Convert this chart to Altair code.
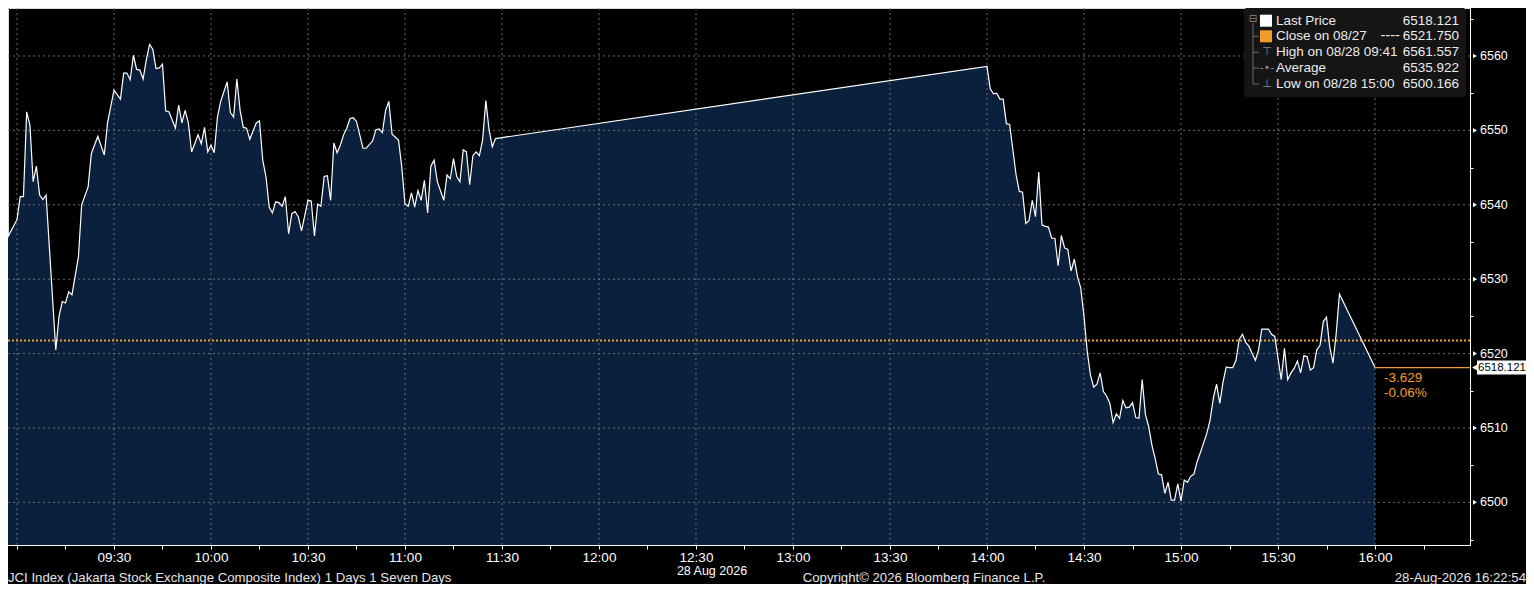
import altair as alt
import pandas as pd

# ---------------- data ----------------
times = [
    "08:55", "09:00", "09:01", "09:02", "09:03", "09:04", "09:05", "09:06", "09:07", "09:08", "09:09",
    "09:12", "09:13", "09:14", "09:15", "09:16", "09:17", "09:19", "09:20", "09:22", "09:23", "09:25",
    "09:27", "09:28", "09:30", "09:32", "09:33", "09:34", "09:35", "09:36", "09:37", "09:38", "09:39",
    "09:40", "09:41", "09:42", "09:43", "09:44", "09:45", "09:46", "09:47", "09:49", "09:50", "09:51",
    "09:52", "09:53", "09:54", "09:56", "09:57", "09:58", "09:59", "10:00", "10:01", "10:02", "10:03",
    "10:05", "10:06", "10:07", "10:08", "10:09", "10:10", "10:11", "10:12", "10:14", "10:15", "10:16",
    "10:17", "10:18", "10:19", "10:20", "10:21", "10:22", "10:23", "10:24", "10:25", "10:26", "10:27",
    "10:28", "10:30", "10:31", "10:32", "10:33", "10:34", "10:35", "10:36", "10:37", "10:38", "10:39",
    "10:40", "10:41", "10:42", "10:43", "10:44", "10:45", "10:47", "10:48", "10:50", "10:51", "10:52",
    "10:53", "10:54", "10:55", "10:56", "10:58", "10:59", "11:00", "11:01", "11:02", "11:03", "11:04",
    "11:05", "11:06", "11:07", "11:08", "11:09", "11:10", "11:12", "11:13", "11:14", "11:15", "11:16",
    "11:17", "11:18", "11:19", "11:20", "11:21", "11:22", "11:23", "11:24", "11:25", "11:26", "11:27",
    "11:28",
    "14:00", "14:01", "14:02", "14:03", "14:04", "14:05", "14:06", "14:07", "14:08", "14:09", "14:10",
    "14:11", "14:12", "14:13", "14:14", "14:15", "14:16", "14:17", "14:18", "14:19", "14:20", "14:21",
    "14:22", "14:23", "14:24", "14:25", "14:26", "14:27", "14:28", "14:29", "14:30", "14:31", "14:32",
    "14:33", "14:34", "14:35", "14:36", "14:37", "14:38", "14:39", "14:40", "14:41", "14:42", "14:43",
    "14:44", "14:45", "14:46", "14:47", "14:48", "14:49", "14:50", "14:51", "14:52", "14:53", "14:54",
    "14:55", "14:56", "14:57", "14:58", "14:59", "15:00", "15:01", "15:02", "15:03", "15:04", "15:05",
    "15:06", "15:08", "15:09", "15:10", "15:11", "15:12", "15:13", "15:14", "15:15", "15:16", "15:17",
    "15:18", "15:19", "15:20", "15:21", "15:22", "15:23", "15:24", "15:25", "15:26", "15:27", "15:28",
    "15:29", "15:30", "15:31", "15:32", "15:33", "15:34", "15:35", "15:36", "15:37", "15:38", "15:39",
    "15:40", "15:41", "15:42", "15:43", "15:44", "15:45", "15:46", "15:47", "15:48", "15:49", "16:00",
]
prices = [
    6533.9, 6538.0, 6541.1, 6541.1, 6552.5, 6550.7, 6543.1, 6545.2, 6541.3, 6540.7, 6541.3,
    6520.5, 6525.0, 6527.0, 6526.8, 6528.3, 6527.9, 6533.0, 6540.0, 6542.4, 6546.9, 6549.2,
    6546.7, 6551.0, 6555.4, 6554.2, 6557.7, 6557.7, 6556.8, 6560.1, 6558.2, 6558.1, 6556.9,
    6559.5, 6561.557, 6560.9, 6558.3, 6558.4, 6558.9, 6552.6, 6552.5, 6550.3, 6553.4, 6551.0,
    6552.7, 6551.0, 6547.1, 6549.4, 6548.2, 6550.4, 6547.1, 6548.0, 6547.0, 6551.8, 6553.9,
    6556.5, 6552.4, 6551.8, 6556.9, 6552.7, 6550.4, 6550.3, 6548.8, 6551.0, 6551.3, 6546.0,
    6543.8, 6539.7, 6538.9, 6540.4, 6540.3, 6539.8, 6541.1, 6536.1, 6538.8, 6539.1, 6538.4,
    6536.5, 6540.6, 6540.5, 6535.8, 6540.1, 6539.8, 6543.8, 6543.9, 6540.6, 6548.3, 6547.0,
    6548.0, 6549.4, 6550.3, 6551.6, 6551.7, 6551.2, 6547.6, 6547.6, 6548.6, 6550.1, 6550.2,
    6549.7, 6552.7, 6553.9, 6549.5, 6548.7, 6545.1, 6540.1, 6539.8, 6541.6, 6539.7, 6541.9,
    6540.6, 6543.3, 6538.9, 6545.2, 6546.0, 6543.1, 6540.6, 6544.0, 6543.5, 6546.2, 6543.8,
    6543.1, 6547.4, 6547.1, 6542.7, 6546.6, 6547.1, 6546.6, 6548.7, 6554.0, 6550.1, 6547.8,
    6548.9,
    6558.6, 6555.6, 6554.9, 6555.0, 6554.2, 6554.2, 6550.9, 6550.8, 6547.4, 6544.0, 6541.8,
    6541.7, 6537.5, 6537.9, 6540.6, 6538.4, 6544.4, 6537.3, 6537.1, 6537.0, 6535.5, 6535.5,
    6531.8, 6535.9, 6534.2, 6534.0, 6531.1, 6532.7, 6530.3, 6528.8, 6525.0, 6520.3, 6517.1,
    6515.5, 6515.9, 6517.4, 6514.9, 6514.3, 6513.3, 6510.7, 6511.9, 6511.3, 6513.7, 6512.7,
    6512.8, 6513.4, 6511.4, 6511.3, 6516.5, 6511.8, 6510.2, 6507.7, 6505.9, 6503.8, 6503.7,
    6501.2, 6502.7, 6500.3, 6500.3, 6502.5, 6500.166, 6503.0, 6502.7, 6503.5, 6503.8, 6505.5,
    6506.7, 6509.3, 6511.1, 6514.0, 6515.9, 6513.3, 6516.2, 6518.2, 6518.1, 6518.1, 6519.1,
    6521.9, 6522.6, 6521.5, 6521.0, 6520.0, 6519.1, 6520.5, 6523.3, 6523.3, 6523.3, 6522.6,
    6522.3, 6519.4, 6516.5, 6520.7, 6516.5, 6517.4, 6518.0, 6519.0, 6517.4, 6519.7, 6519.6,
    6517.8, 6518.1, 6520.5, 6521.1, 6524.3, 6524.9, 6520.9, 6518.7, 6522.7, 6528.0, 6518.121,
]

prev_close = 6521.750
last_price = 6518.121
legend_labels = ["Last Price", "Close on 08/27", "High on 08/28 09:41", "Average", "Low on 08/28 15:00"]
legend_values = [6518.121, 6521.750, 6561.557, 6535.922, 6500.166]
legend_icons = ["", "", "\u22a4", "-\u2022-", "\u22a5"]
close_dash_label = "----"

x_tick_minutes = list(range(0, 436, 15))      # 09:00 ... 16:15 every 15 min
x_grid_minutes = list(range(0, 421, 30))      # 09:00 ... 16:00
y_axis_values = list(range(6495, 6566, 5))
y_label_values = [6500, 6510, 6520, 6530, 6540, 6550, 6560]

footer_left = "JCI Index (Jakarta Stock Exchange Composite Index) 1 Days 1 Seven Days"
footer_mid = "Copyright\u00a9 2026 Bloomberg Finance L.P."
footer_right = "28-Aug-2026 16:22:54"
date_label = "28 Aug 2026"

# ---------------- layout ----------------
W, H = 1462, 537
TOTAL_W, TOTAL_H = 1518, 576
X_MIN, X_MAX = -2.78, 449.38
Y_MIN, Y_MAX = 6494.27, 6566.45
FONT = "Liberation Sans"
ORANGE = "#f29d2a"
FILL = "#0a203d"
GRID = "#7d7d7d"


def to_min(t):
    h, m = t.split(":")
    return (int(h) - 9) * 60 + int(m)


df = pd.DataFrame({"m": [to_min(t) for t in times], "p": prices})

xs = alt.Scale(domain=[X_MIN, X_MAX], nice=False, zero=False)
ys = alt.Scale(domain=[Y_MIN, Y_MAX], nice=False, zero=False)

x_label_expr = (
    "(datum.value % 30 != 0 || datum.value <= 0) ? '' : "
    "((floor(datum.value/60)+9) < 10 ? '0' : '') + (floor(datum.value/60)+9) + ':' + "
    "(datum.value % 60 == 0 ? '00' : '30')"
)

x_axis = alt.Axis(
    values=x_tick_minutes, labelExpr=x_label_expr, tickSize=4, tickColor="white",
    domainColor="white", labelColor="white", labelFont=FONT, labelFontSize=13.5,
    labelPadding=1, grid=False, title=None, labelFlush=False, labelOverlap=False,
)
y_axis = alt.Axis(
    orient="right", values=y_axis_values, labels=False,
    tickSize=3, tickColor="white", domainColor="white", grid=False, title=None,
)

base = alt.Chart(df)

area = base.mark_area(color=FILL, clip=True).encode(
    x=alt.X("m:Q", scale=xs, axis=x_axis),
    y=alt.Y("p:Q", scale=ys, axis=y_axis),
    y2=alt.datum(Y_MIN),
)

xgrid = alt.Chart(pd.DataFrame({"m": x_grid_minutes})).mark_rule(
    color=GRID, strokeDash=[2, 3], strokeWidth=1, opacity=0.85
).encode(x=alt.X("m:Q", scale=xs))

ygrid = alt.Chart(pd.DataFrame({"p": y_label_values})).mark_rule(
    color=GRID, strokeDash=[2, 3], strokeWidth=1, opacity=0.85
).encode(y=alt.Y("p:Q", scale=ys))

close_rule = alt.Chart(pd.DataFrame({"p": [prev_close]})).mark_rule(
    color=ORANGE, strokeDash=[2, 2], strokeWidth=2
).encode(y=alt.Y("p:Q", scale=ys))

line = base.mark_line(color="white", strokeWidth=1.2, clip=True).encode(
    x=alt.X("m:Q", scale=xs), y=alt.Y("p:Q", scale=ys)
)

# right-axis labels and pointer triangles
ylab_df = pd.DataFrame({"p": y_label_values, "t": [str(v) for v in y_label_values]})
ytri = alt.Chart(ylab_df).mark_point(
    shape="triangle-right", filled=True, color="white", size=22, opacity=1
).encode(x=alt.value(W + 5), y=alt.Y("p:Q", scale=ys))
ylabels = alt.Chart(ylab_df).mark_text(
    color="white", font=FONT, fontSize=12.5, align="left", baseline="middle"
).encode(x=alt.value(W + 10), y=alt.Y("p:Q", scale=ys), text="t:N")

last_df = pd.DataFrame({
    "m": [to_min(times[-1])], "m2": [X_MAX], "p": [last_price],
    "lo": [last_price - 0.95], "hi": [last_price + 0.95],
    "chg": [f"{last_price - prev_close:.3f}"],
    "pct": [f"{(last_price - prev_close) / prev_close * 100:.2f}%"],
    "lbl": [f"{last_price:.3f}"],
})
last_chart = alt.Chart(last_df)

last_rule = last_chart.mark_rule(color=ORANGE, strokeWidth=1.2).encode(
    x=alt.X("m:Q", scale=xs), x2="m2:Q", y=alt.Y("p:Q", scale=ys)
)
chg_text = last_chart.mark_text(
    color=ORANGE, font=FONT, fontSize=13.5, align="left", baseline="middle", dx=9, dy=10
).encode(x=alt.X("m:Q", scale=xs), y=alt.Y("p:Q", scale=ys), text="chg:N")
pct_text = last_chart.mark_text(
    color=ORANGE, font=FONT, fontSize=13.5, align="left", baseline="middle", dx=9, dy=25
).encode(x=alt.X("m:Q", scale=xs), y=alt.Y("p:Q", scale=ys), text="pct:N")

tag_rect = last_chart.mark_rect(color="white").encode(
    x=alt.value(W + 7), x2=alt.value(TOTAL_W), y=alt.Y("lo:Q", scale=ys), y2="hi:Q"
)
tag_tri = last_chart.mark_point(shape="triangle-left", filled=True, color="white", size=45, opacity=1).encode(
    x=alt.value(W + 5), y=alt.Y("p:Q", scale=ys)
)
tag_text = last_chart.mark_text(
    color="black", font=FONT, fontSize=11.5, align="left", baseline="middle"
).encode(x=alt.value(W + 8), y=alt.Y("p:Q", scale=ys), text="lbl:N")

# ---------------- legend box ----------------
LX0, LX1 = 1236, 1458
row_y = [12.7, 28.3, 44.3, 60.0, 76.0]
leg_df = pd.DataFrame({
    "label": legend_labels,
    "val": [f"{v:.3f}" for v in legend_values],
    "icon": legend_icons,
    "ly": row_y,
})
leg_chart = alt.Chart(leg_df)
const = alt.Chart(pd.DataFrame({"a": [0]}))

leg_bg = const.mark_rect(color="#151515", cornerRadius=3).encode(
    x=alt.value(LX0), x2=alt.value(LX1), y=alt.value(0), y2=alt.value(89)
)
leg_labels = leg_chart.mark_text(
    color="#ececec", font=FONT, fontSize=13.5, align="left", baseline="middle"
).encode(x=alt.value(1268), y=alt.Y("ly:Q", scale=None), text="label:N")
leg_vals = leg_chart.mark_text(
    color="#ececec", font=FONT, fontSize=13.5, align="right", baseline="middle"
).encode(x=alt.value(1451), y=alt.Y("ly:Q", scale=None), text="val:N")
leg_dash = const.mark_text(
    color="#ececec", font="DejaVu Sans", fontSize=13.5, align="right", baseline="middle", text=close_dash_label
).encode(x=alt.value(1392), y=alt.value(row_y[1]))
leg_icons = leg_chart.mark_text(
    color="#8a8a8a", font="DejaVu Sans", fontSize=11, align="center", baseline="middle"
).encode(x=alt.value(1259), y=alt.Y("ly:Q", scale=None), text="icon:N")
sq_df = pd.DataFrame({"ly": row_y[:2], "c": ["#ffffff", ORANGE]})
leg_squares = alt.Chart(sq_df).mark_square(size=144, opacity=1).encode(
    x=alt.value(1258), y=alt.Y("ly:Q", scale=None), color=alt.Color("c:N", scale=None)
)
tree_df = pd.DataFrame({
    "x1": [1245, 1245, 1245, 1245, 1245],
    "x2": [1245, 1251, 1251, 1251, 1251],
    "y1": [15, 28.3, 44.3, 60.0, 76.0],
    "y2": [76, 28.3, 44.3, 60.0, 76.0],
})
leg_tree = alt.Chart(tree_df).mark_rule(color="#6a6a6a", strokeWidth=1).encode(
    x=alt.X("x1:Q", scale=None), x2="x2:Q", y=alt.Y("y1:Q", scale=None), y2="y2:Q"
)
leg_box = const.mark_text(
    color="#8a8a8a", font="DejaVu Sans", fontSize=10, align="center", baseline="middle", text="\u229f"
).encode(x=alt.value(1245), y=alt.value(11))

# ---------------- footer ----------------
date_txt = const.mark_text(
    color="white", font=FONT, fontSize=12.5, align="center", baseline="middle", text=date_label
).encode(x=alt.value(704), y=alt.value(H + 26))
foot_l = const.mark_text(
    color="#e6e6e6", font=FONT, fontSize=13.2, align="left", baseline="middle", text=footer_left
).encode(x=alt.value(0), y=alt.value(TOTAL_H - 6))
foot_m = const.mark_text(
    color="#e6e6e6", font=FONT, fontSize=13.2, align="center", baseline="middle", text=footer_mid
).encode(x=alt.value(916), y=alt.value(TOTAL_H - 6))
foot_r = const.mark_text(
    color="#e6e6e6", font=FONT, fontSize=13.2, align="right", baseline="middle", text=footer_right
).encode(x=alt.value(TOTAL_W), y=alt.value(TOTAL_H - 6))

chart = alt.layer(
    area, xgrid, ygrid, close_rule, line, last_rule, chg_text, pct_text,
    ytri, ylabels, tag_rect, tag_tri, tag_text,
    leg_bg, leg_tree, leg_box, leg_squares, leg_icons, leg_labels, leg_dash, leg_vals,
    date_txt, foot_l, foot_m, foot_r,
).properties(
    width=W, height=H,
    autosize=alt.AutoSizeParams(type="none"),
    padding={"left": 0, "top": 0, "right": TOTAL_W - W, "bottom": TOTAL_H - H},
    background="black",
).configure_view(stroke=None).configure(font=FONT)

chart.save("out.html", embed_options={"renderer": "svg", "actions": False})
